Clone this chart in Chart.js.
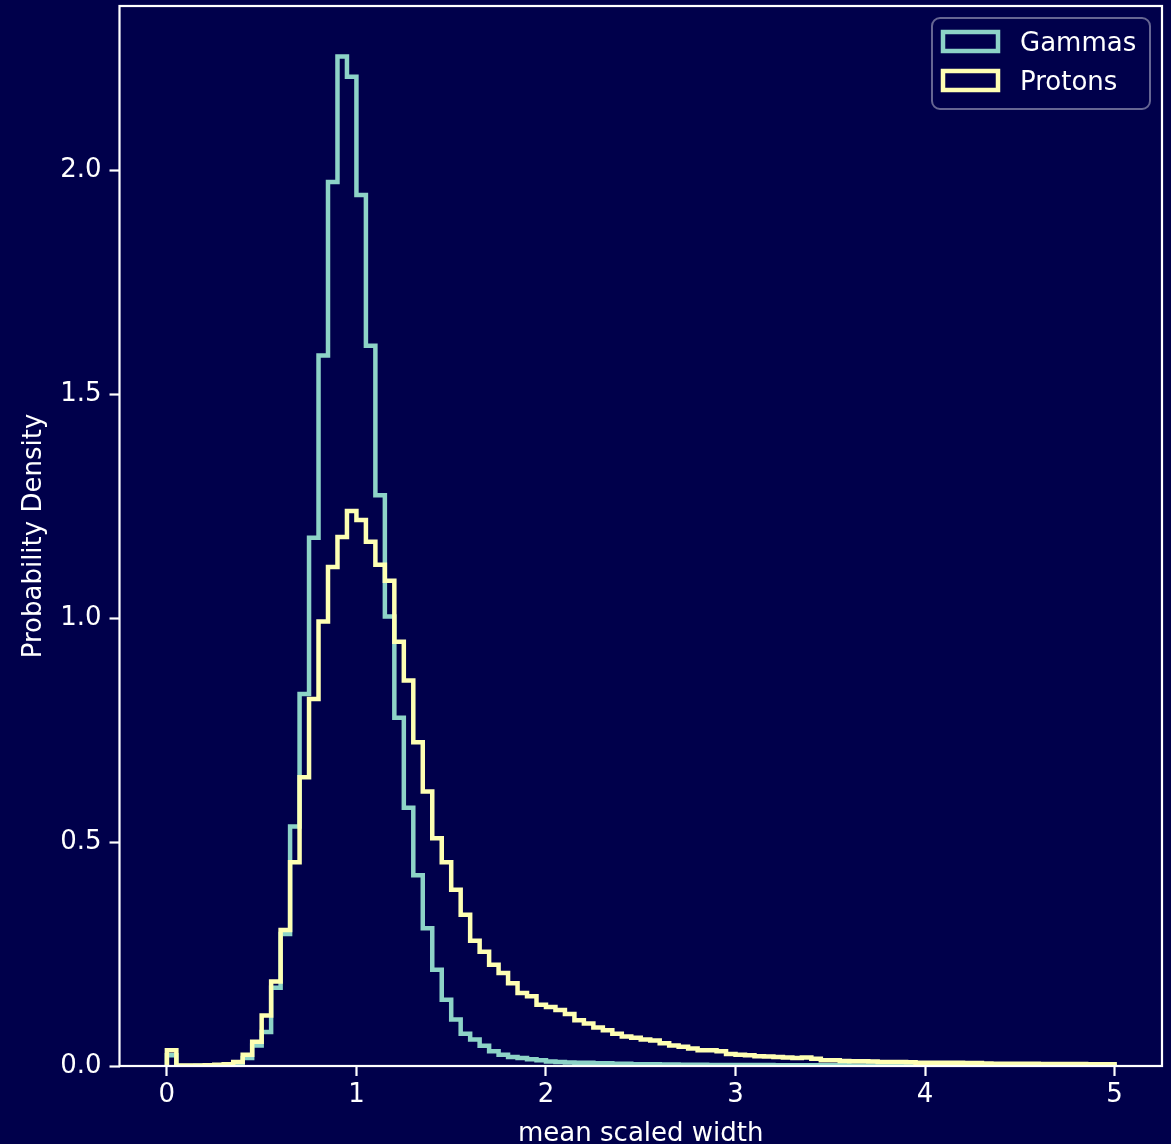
<!DOCTYPE html>
<html>
<head>
<meta charset="utf-8">
<script src="https://cdn.jsdelivr.net/npm/chart.js@4"></script>
<style>
  html, body { margin: 0; padding: 0; background: #00004b; }
  canvas { display: block; }
</style>
</head>
<body>
<canvas id="hist" width="1171" height="1144"></canvas>
<script>
// histogram bins: 100 bins of width 0.05 between 0 and 5
const binEdges = Array.from({ length: 101 }, (_, i) => +(i * 0.05).toFixed(2));

// probability density per bin
const gammas = [
    0.024, 0.000, 0.000, 0.0005, 0.0005, 0.001, 0.002, 0.005, 0.018, 0.046,
    0.076, 0.175, 0.295, 0.535, 0.831, 1.180, 1.587, 1.975, 2.255, 2.210,
    1.946, 1.609, 1.275, 1.004, 0.778, 0.577, 0.426, 0.308, 0.215, 0.148,
    0.104, 0.072, 0.059, 0.045, 0.033, 0.025, 0.020, 0.018, 0.015, 0.013,
    0.010, 0.009, 0.008, 0.0075, 0.007, 0.006, 0.006, 0.005, 0.005, 0.004,
    0.004, 0.004, 0.0035, 0.0035, 0.003, 0.003, 0.003, 0.0025, 0.0025, 0.0025,
    0.002, 0.002, 0.002, 0.002, 0.0018, 0.0018, 0.0016, 0.0016, 0.0015, 0.0015,
    0.0014, 0.0014, 0.0013, 0.0013, 0.0012, 0.0012, 0.0011, 0.001, 0.001, 0.0009,
    0.0009, 0.0008, 0.0008, 0.0007, 0.0007, 0.0006, 0.0006, 0.0006, 0.0005, 0.0005,
    0.0005, 0.0004, 0.0004, 0.0004, 0.0003, 0.0003, 0.0003, 0.0003, 0.0002, 0.0002
];
const protons = [
    0.035, 0.001, 0.001, 0.001, 0.0015, 0.003, 0.004, 0.009, 0.025, 0.054,
    0.113, 0.189, 0.304, 0.455, 0.645, 0.820, 0.993, 1.115, 1.182, 1.240,
    1.220, 1.171, 1.120, 1.084, 0.948, 0.861, 0.723, 0.613, 0.509, 0.455,
    0.394, 0.338, 0.280, 0.255, 0.226, 0.208, 0.185, 0.163, 0.156, 0.137,
    0.132, 0.125, 0.116, 0.102, 0.095, 0.086, 0.080, 0.072, 0.066, 0.063,
    0.059, 0.057, 0.051, 0.046, 0.043, 0.039, 0.035, 0.035, 0.033, 0.027,
    0.025, 0.024, 0.022, 0.021, 0.020, 0.019, 0.018, 0.019, 0.016, 0.013,
    0.013, 0.011, 0.0105, 0.0105, 0.010, 0.009, 0.009, 0.009, 0.0085, 0.0075,
    0.0075, 0.0074, 0.0072, 0.007, 0.0068, 0.0065, 0.0055, 0.0052, 0.005, 0.005,
    0.005, 0.0048, 0.0046, 0.0045, 0.0044, 0.0043, 0.0042, 0.004, 0.004, 0.0038
];

const xTicks = [0, 1, 2, 3, 4, 5];
const yTicks = [0, 0.5, 1.0, 1.5, 2.0];

const BG = '#00004b';
const FONT = { family: 'DejaVu Sans', size: 26 };

// outline of a step histogram: up at the first edge, across each bin, down at the last edge
function stepPoints(heights) {
    const pts = [{ x: binEdges[0], y: 0 }];
    heights.forEach((h, i) => pts.push({ x: binEdges[i], y: h }));
    pts.push({ x: binEdges[heights.length], y: 0 });
    return pts;
}

// drop the room Chart.js keeps for half a tick label at the axis ends
function noEndPadding(s) {
    s.paddingTop = 0;
    s.paddingBottom = 0;
    s.paddingLeft = 0;
    s.paddingRight = 0;
}

const background = {
    id: 'background',
    beforeDraw(chart) {
        const ctx = chart.ctx;
        ctx.save();
        ctx.fillStyle = BG;
        ctx.fillRect(0, 0, chart.width, chart.height);
        ctx.restore();
    }
};

// the four spines and a matplotlib-like legend in the upper right corner
const frameAndLegend = {
    id: 'frameAndLegend',
    afterDatasetsDraw(chart) {
        const ctx = chart.ctx;
        const a = chart.chartArea;
        ctx.save();
        ctx.strokeStyle = '#ffffff';
        ctx.lineWidth = 2.2;
        ctx.strokeRect(a.left, a.top, a.right - a.left, a.bottom - a.top);

        // legend frame
        ctx.beginPath();
        ctx.roundRect(932, 18, 218, 91, 8);
        ctx.fillStyle = 'rgba(0, 0, 75, 0.8)';
        ctx.fill();
        ctx.strokeStyle = 'rgba(255, 255, 255, 0.4)';
        ctx.lineWidth = 2;
        ctx.stroke();

        const baselines = [51, 90];
        chart.data.datasets.forEach((ds, i) => {
            const base = baselines[i];
            ctx.fillStyle = BG;
            ctx.fillRect(943, base - 19, 55, 19);
            ctx.strokeStyle = ds.borderColor;
            ctx.lineWidth = 4.5;
            ctx.strokeRect(943, base - 19, 55, 19);
            ctx.fillStyle = '#ffffff';
            ctx.font = FONT.size + 'px "' + FONT.family + '"';
            ctx.textBaseline = 'alphabetic';
            ctx.textAlign = 'left';
            ctx.fillText(ds.label, 1020, base);
        });
        ctx.restore();
    }
};

new Chart(document.getElementById('hist'), {
    type: 'line',
    data: {
        datasets: [{
            label: 'Gammas',
            data: stepPoints(gammas),
            borderColor: '#8dd3c7',
            order: 1
        }, {
            label: 'Protons',
            data: stepPoints(protons),
            borderColor: '#feffb3',
            order: 0
        }]
    },
    options: {
        responsive: false,
        animation: false,
        devicePixelRatio: 1,
        layout: { padding: { left: 0, right: 9, top: 6, bottom: 0 } },
        elements: {
            line: { borderWidth: 4.5, stepped: 'before', fill: false, borderJoinStyle: 'miter', borderCapStyle: 'butt', tension: 0 },
            point: { radius: 0, hoverRadius: 0 }
        },
        plugins: {
            legend: { display: false },
            tooltip: { enabled: false }
        },
        scales: {
            x: {
                type: 'linear',
                min: -0.25,
                max: 5.25,
                afterBuildTicks: s => { s.ticks = xTicks.map(v => ({ value: v })); },
                afterFit: s => { s.height = 78; noEndPadding(s); },
                grid: { display: true, drawOnChartArea: false, drawTicks: true, tickLength: 10, tickWidth: 2.2, tickColor: '#ffffff', color: '#ffffff' },
                border: { display: false },
                ticks: { color: '#ffffff', font: FONT, padding: 4, autoSkip: false, maxRotation: 0, callback: v => String(v) },
                title: { display: true, text: 'mean scaled width', color: '#ffffff', font: FONT, padding: { top: 0, bottom: -6 } }
            },
            y: {
                type: 'linear',
                min: 0,
                max: 2.368,
                afterBuildTicks: s => { s.ticks = yTicks.map(v => ({ value: v })); },
                afterFit: s => { s.width = 119.5; noEndPadding(s); },
                grid: { display: true, drawOnChartArea: false, drawTicks: true, tickLength: 10, tickWidth: 2.2, tickColor: '#ffffff', color: '#ffffff' },
                border: { display: false },
                ticks: { color: '#ffffff', font: FONT, padding: 8, autoSkip: false, callback: v => v.toFixed(1) },
                title: { display: true, text: 'Probability Density', color: '#ffffff', font: FONT, padding: { top: 19, bottom: 0 } }
            }
        }
    },
    plugins: [background, frameAndLegend]
});
</script>
</body>
</html>
